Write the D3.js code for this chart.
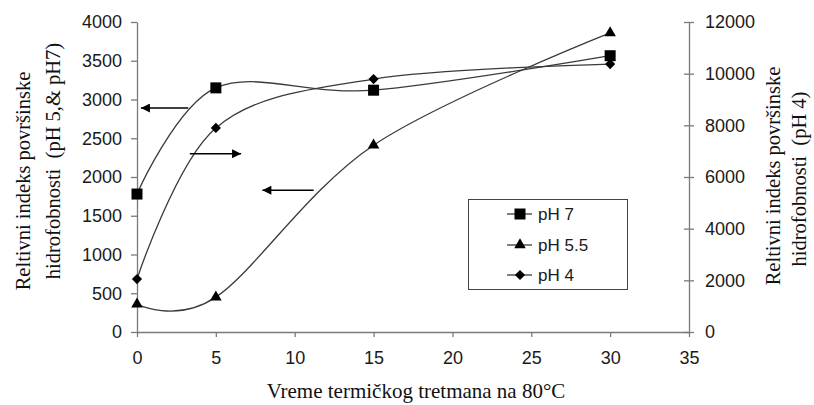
<!DOCTYPE html>
<html>
<head>
<meta charset="utf-8">
<script src="https://cdn.jsdelivr.net/npm/d3@7"></script>
<style>
  body { margin: 0; background: #fff; }
  svg { display: block; }
  text.serif { font-family: "Liberation Serif", "Times New Roman", Tinos, "DejaVu Serif", serif; }
  .sans text, text.sans { font-family: "Liberation Sans", Arial, Arimo, sans-serif; }
</style>
</head>
<body>
<svg id="chart" width="814" height="405"></svg>
<script>
// ---- data ----
const times = [0, 5, 15, 30];
const pH7 = [1780, 3150, 3120, 3565];      // left axis
const pH55 = [360, 450, 2410, 3860];       // left axis
const pH4 = [2050, 7900, 9790, 10370];     // right axis
const seriesNames = ["pH 7", "pH 5.5", "pH 4"];
const xTicks = [0, 5, 10, 15, 20, 25, 30, 35];
const yLeftTicks = [0, 500, 1000, 1500, 2000, 2500, 3000, 3500, 4000];
const yRightTicks = [0, 2000, 4000, 6000, 8000, 10000, 12000];
// annotation arrows: [fromX, toX, y (left-axis units)]
const arrows = [[3.25, 0.25, 2890], [3.35, 6.6, 2300], [11.2, 7.95, 1830]];

const svg = d3.select("#chart");
const mLeft = 137, mRight = 689, mTop = 22, mBottom = 332;
const axisColor = "#7a7a7a";
const lineColor = "#3a3a3a";

const x = d3.scaleLinear().domain([0, 35]).range([mLeft, mRight]);
const yL = d3.scaleLinear().domain([0, 4000]).range([mBottom, mTop]);
const yR = d3.scaleLinear().domain([0, 12000]).range([mBottom, mTop]);

// arrow marker
const defs = svg.append("defs");
defs.append("marker").attr("id", "ah")
  .attr("viewBox", "0 0 10 10").attr("refX", 10).attr("refY", 5)
  .attr("markerWidth", 12).attr("markerHeight", 9)
  .attr("markerUnits", "userSpaceOnUse").attr("orient", "auto")
  .append("path").attr("d", "M0,0 L10,5 L0,10 Z").attr("fill", "#000");

// axes
const fmt = d3.format("d");
const gx = svg.append("g").attr("transform", `translate(0,${mBottom})`)
  .call(d3.axisBottom(x).tickValues(xTicks).tickFormat(fmt).tickSize(5).tickPadding(14).tickSizeOuter(0));
const gl = svg.append("g").attr("transform", `translate(${mLeft},0)`)
  .call(d3.axisLeft(yL).tickValues(yLeftTicks).tickFormat(fmt).tickSize(6).tickPadding(9).tickSizeOuter(0));
const gr = svg.append("g").attr("transform", `translate(${mRight},0)`)
  .call(d3.axisRight(yR).tickValues(yRightTicks).tickFormat(fmt).tickSize(5).tickPadding(11).tickSizeOuter(0));
gr.selectAll(".tick line").attr("x1", -5);
[gx, gl, gr].forEach(g => {
  g.attr("font-family", null).attr("font-size", null).attr("class", "sans");
  g.select(".domain").attr("stroke", axisColor).attr("stroke-width", 1.3);
  g.selectAll(".tick line").attr("stroke", axisColor).attr("stroke-width", 1.3);
  g.selectAll(".tick text").attr("font-size", 18).attr("fill", "#1a1a1a");
});

// lines
const mkLine = (ys, scale) => d3.line()
  .x((d, i) => x(times[i])).y(d => scale(d))
  .curve(d3.curveCardinal.tension(0))(ys);

const series = [
  { vals: pH7, scale: yL, sym: d3.symbolSquare, size: 121, rot: 0 },
  { vals: pH55, scale: yL, sym: d3.symbolTriangle, size: 58, rot: 0 },
  { vals: pH4, scale: yR, sym: d3.symbolSquare, size: 52, rot: 45 }
];

series.forEach(s => {
  svg.append("path").attr("d", mkLine(s.vals, s.scale))
    .attr("fill", "none").attr("stroke", lineColor).attr("stroke-width", 1.3);
});
series.forEach(s => {
  svg.append("g").selectAll("path").data(s.vals).join("path")
    .attr("transform", (d, i) => `translate(${x(times[i])},${s.scale(d)}) rotate(${s.rot})`)
    .attr("d", d3.symbol().type(s.sym).size(s.size)).attr("fill", "#000");
});

// arrows
svg.append("g").selectAll("line").data(arrows).join("line")
  .attr("x1", d => x(d[0])).attr("x2", d => x(d[1]))
  .attr("y1", d => yL(d[2])).attr("y2", d => yL(d[2]))
  .attr("stroke", "#000").attr("stroke-width", 1.6).attr("marker-end", "url(#ah)");

// legend
const lg = svg.append("g");
lg.append("rect").attr("x", 468.5).attr("y", 199.5).attr("width", 159).attr("height", 90)
  .attr("fill", "#fff").attr("stroke", "#444").attr("stroke-width", 1);
const legY = [214, 245, 275];
series.forEach((s, i) => {
  lg.append("line").attr("x1", 507).attr("x2", 532).attr("y1", legY[i]).attr("y2", legY[i])
    .attr("stroke", lineColor).attr("stroke-width", 1.3);
  lg.append("path").attr("transform", `translate(520,${legY[i]}) rotate(${s.rot})`)
    .attr("d", d3.symbol().type(s.sym).size(s.size)).attr("fill", "#000");
  lg.append("text").attr("class", "sans").attr("x", 538).attr("y", legY[i]).attr("dy", "0.35em")
    .attr("font-size", 17).attr("fill", "#1a1a1a")
    .text(seriesNames[i]);
});

// axis titles
svg.append("text").attr("class", "serif").attr("x", 416).attr("y", 398).attr("text-anchor", "middle")
  .attr("font-size", 21).attr("fill", "#111")
  .text("Vreme termičkog tretmana na 80°C");

const titles = [
  { x: 23, y: 181, t: "Reltivni indeks površinske" },
  { x: 53, y: 161, t: "hidrofobnosti  (pH 5,& pH7)" },
  { x: 773, y: 176, t: "Reltivni indeks površinske" },
  { x: 799, y: 179, t: "hidrofobnosti  (pH 4)" }
];
titles.forEach(d => {
  svg.append("text").attr("class", "serif").attr("transform", `translate(${d.x},${d.y}) rotate(-90)`)
    .attr("text-anchor", "middle").attr("dy", "0.35em")
    .attr("font-size", 20.5).attr("fill", "#111")
    .style("white-space", "pre")
    .text(d.t);
});
</script>
</body>
</html>
